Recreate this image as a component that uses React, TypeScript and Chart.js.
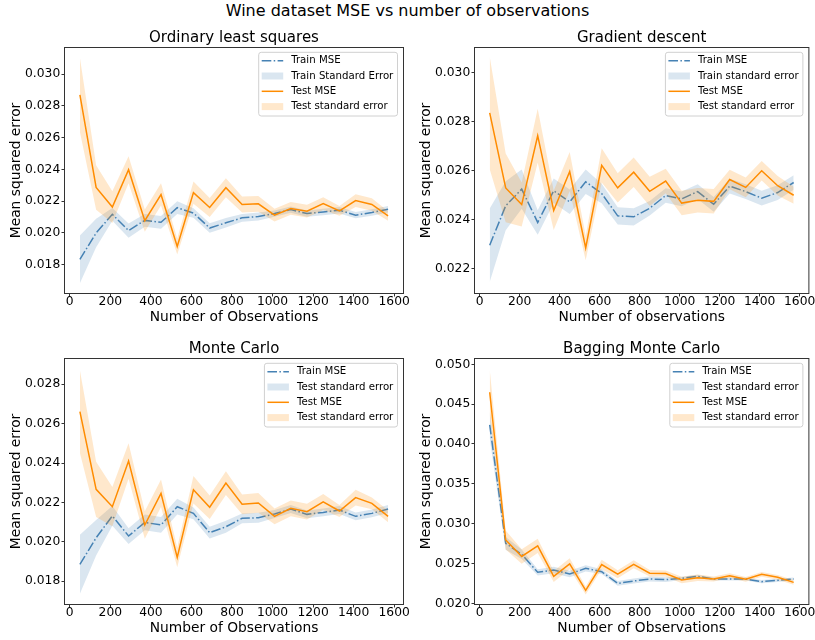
import { useEffect, useRef } from "react";
import { Chart, registerables } from "chart.js";

Chart.register(...registerables);

// ---------------- data ----------------
const xObs = [50, 130, 210, 290, 370, 450, 530, 610, 690, 770, 850, 930, 1010, 1090, 1170, 1250, 1330, 1410, 1490, 1570];
const xTicks = [0, 200, 400, 600, 800, 1000, 1200, 1400, 1600];
const xRange = [-26, 1646];

// Ordinary least squares
const olsTrainMse = [0.01834, 0.02000, 0.02117, 0.02015, 0.02079, 0.02067, 0.02159, 0.02125, 0.02031, 0.02064, 0.02095, 0.02103, 0.02122, 0.02147, 0.02122, 0.02132, 0.02143, 0.02112, 0.02129, 0.02149];
const olsTrainSe = [0.0015, 0.0009, 0.0004, 0.00045, 0.0004, 0.0004, 0.0004, 0.0003, 0.0003, 0.0003, 0.00025, 0.00025, 0.0002, 0.0002, 0.0002, 0.0002, 0.0002, 0.0002, 0.0002, 0.0002];
const olsTestMse = [0.02869, 0.02286, 0.02163, 0.02398, 0.02077, 0.02242, 0.01915, 0.02254, 0.02160, 0.02285, 0.02179, 0.02183, 0.02112, 0.02154, 0.02137, 0.02185, 0.02139, 0.02204, 0.02179, 0.02107];
const olsTestSe = [0.00233, 0.0014, 0.001, 0.00085, 0.0007, 0.0007, 0.0005, 0.0007, 0.0006, 0.0006, 0.0005, 0.0005, 0.0004, 0.0004, 0.0004, 0.0004, 0.0003, 0.0004, 0.0004, 0.0003];
const olsYTicks = [0.018, 0.020, 0.022, 0.024, 0.026, 0.028, 0.030];
const olsYRange = [0.01619, 0.03167];

// Gradient descent
const gdTrainMse = [0.02296, 0.02457, 0.02525, 0.02389, 0.02518, 0.02473, 0.02555, 0.02507, 0.02416, 0.02412, 0.02447, 0.02499, 0.02485, 0.02515, 0.02463, 0.02537, 0.02515, 0.02488, 0.02511, 0.02552];
const gdTrainSe = [0.0015, 0.001, 0.0008, 0.0005, 0.0005, 0.0005, 0.0005, 0.0004, 0.00035, 0.00035, 0.0003, 0.0003, 0.0003, 0.0003, 0.0003, 0.0003, 0.0003, 0.0003, 0.0003, 0.0003];
const gdTestMse = [0.02836, 0.02530, 0.02462, 0.02743, 0.02438, 0.02597, 0.02285, 0.02622, 0.02530, 0.02594, 0.02516, 0.02558, 0.02468, 0.02480, 0.02475, 0.02564, 0.02532, 0.02600, 0.02539, 0.02500];
const gdTestSe = [0.0023, 0.0014, 0.0009, 0.0011, 0.0008, 0.0008, 0.0005, 0.0007, 0.0006, 0.0006, 0.0006, 0.0005, 0.0005, 0.0005, 0.0005, 0.0004, 0.0004, 0.0004, 0.0004, 0.00035];
const gdYTicks = [0.022, 0.024, 0.026, 0.028, 0.030];
const gdYRange = [0.02099, 0.03103];

// Monte Carlo
const mcTrainMse = [0.01885, 0.02020, 0.02131, 0.02029, 0.02098, 0.02085, 0.02178, 0.02144, 0.02046, 0.02076, 0.02119, 0.02122, 0.02141, 0.02166, 0.02139, 0.02149, 0.02161, 0.02129, 0.02144, 0.02166];
const mcTrainSe = [0.0015, 0.0009, 0.0005, 0.0004, 0.0004, 0.0004, 0.0004, 0.0003, 0.0003, 0.0003, 0.00025, 0.00025, 0.0002, 0.0002, 0.0002, 0.0002, 0.0002, 0.0002, 0.0002, 0.0002];
const mcTestMse = [0.02661, 0.02266, 0.02178, 0.02410, 0.02085, 0.02246, 0.01920, 0.02264, 0.02175, 0.02298, 0.02190, 0.02197, 0.02129, 0.02170, 0.02153, 0.02203, 0.02156, 0.02224, 0.02195, 0.02129];
const mcTestSe = [0.0021, 0.0014, 0.001, 0.0009, 0.0007, 0.0007, 0.0005, 0.0007, 0.0006, 0.0006, 0.0005, 0.0005, 0.0004, 0.0004, 0.0004, 0.0004, 0.0003, 0.0004, 0.0003, 0.0003];
const mcYTicks = [0.018, 0.020, 0.022, 0.024, 0.026, 0.028];
const mcYRange = [0.01681, 0.02931];

// Bagging Monte Carlo
const bmTrainMse = [0.04241, 0.02753, 0.02615, 0.02389, 0.02418, 0.02368, 0.02439, 0.02397, 0.02250, 0.02280, 0.02305, 0.02297, 0.02313, 0.02339, 0.02305, 0.02305, 0.02305, 0.02272, 0.02288, 0.02305];
const bmTrainSe = [0.0017, 0.0008, 0.0006, 0.0004, 0.0004, 0.0004, 0.0004, 0.0003, 0.0003, 0.0003, 0.0003, 0.0003, 0.0002, 0.0002, 0.0002, 0.0002, 0.0002, 0.0002, 0.0002, 0.0002];
const bmTestMse = [0.04649, 0.02795, 0.02588, 0.02721, 0.02337, 0.02496, 0.02162, 0.02487, 0.02366, 0.02490, 0.02377, 0.02373, 0.02292, 0.02321, 0.02305, 0.02347, 0.02301, 0.02364, 0.02326, 0.02263];
const bmTestSe = [0.0029, 0.0012, 0.0009, 0.0009, 0.0007, 0.0007, 0.0005, 0.0006, 0.0005, 0.0005, 0.0004, 0.0004, 0.0004, 0.0004, 0.0003, 0.0003, 0.0003, 0.0003, 0.0003, 0.0003];
const bmYTicks = [0.020, 0.025, 0.030, 0.035, 0.040, 0.045, 0.050];
const bmYRange = [0.01985, 0.05073];

// texts
const suptitle = "Wine dataset MSE vs number of observations";
const panelTitles = ["Ordinary least squares", "Gradient descent", "Monte Carlo", "Bagging Monte Carlo"];
const xAxisLabels = ["Number of Observations", "Number of observations", "Number of Observations", "Number of Observations"];
const yAxisLabel = "Mean squared error";
const legendLabels = [
  ["Train MSE", "Train Standard Error", "Test MSE", "Test standard error"],
  ["Train MSE", "Train standard error", "Test MSE", "Test standard error"],
  ["Train MSE", "Test standard error", "Test MSE", "Test standard error"],
  ["Train MSE", "Test standard error", "Test MSE", "Test standard error"],
];

// ---------------- styles / layout ----------------
const FONT = "'DejaVu Sans', 'Liberation Sans', sans-serif";
const BLUE = "rgb(70,130,180)";
const BLUE_FILL = "rgba(70,130,180,0.2)";
const ORANGE = "rgb(255,140,0)";
const ORANGE_FILL = "rgba(255,140,0,0.2)";
const DASH = [9.6, 2.4, 1.5, 2.4];
const TRANSPARENT = "rgba(0,0,0,0)";
const Y_AXIS_W = 56;
const X_AXIS_H = 32.3;

const panelAreas = [
  { l: 64.5, t: 47.5, r: 403.5, b: 293.5 },
  { l: 474.5, t: 47.5, r: 810.5, b: 293.5 },
  { l: 64.5, t: 358.5, r: 403.5, b: 604.5 },
  { l: 474.5, t: 358.5, r: 810.5, b: 604.5 },
];

const panels = [
  { train: olsTrainMse, trainSe: olsTrainSe, test: olsTestMse, testSe: olsTestSe, yTicks: olsYTicks, yRange: olsYRange },
  { train: gdTrainMse, trainSe: gdTrainSe, test: gdTestMse, testSe: gdTestSe, yTicks: gdYTicks, yRange: gdYRange },
  { train: mcTrainMse, trainSe: mcTrainSe, test: mcTestMse, testSe: mcTestSe, yTicks: mcYTicks, yRange: mcYRange },
  { train: bmTrainMse, trainSe: bmTrainSe, test: bmTestMse, testSe: bmTestSe, yTicks: bmYTicks, yRange: bmYRange },
];

const toPts = (ys: number[]) => xObs.map((x, i) => ({ x, y: ys[i] }));
const shift = (a: number[], b: number[], s: number) => a.map((v, i) => v + s * b[i]);

const framePlugin = {
  id: "frame",
  afterDatasetsDraw(chart: any) {
    const { ctx, chartArea: a } = chart;
    ctx.save();
    ctx.strokeStyle = "#333";
    ctx.lineWidth = 1;
    ctx.strokeRect(a.left, a.top, a.right - a.left, a.bottom - a.top);
    ctx.restore();
  },
};

const legendPlugin = {
  id: "panelLegend",
  afterDraw(chart: any, _args: any, opts: any) {
    const { ctx, chartArea: a } = chart;
    const labels: string[] = opts.labels || [];
    const fs = 10.2;
    ctx.save();
    ctx.font = `${fs}px ${FONT}`;
    const maxW = Math.max(...labels.map((l) => ctx.measureText(l).width));
    const w = 32.5 + maxW + 4.2;
    const h = 63.7;
    const right = a.right - 6;
    const left = right - w;
    const top = a.top + 4.8;
    ctx.beginPath();
    if (ctx.roundRect) ctx.roundRect(left, top, w, h, 2.5);
    else ctx.rect(left, top, w, h);
    ctx.fillStyle = "rgba(255,255,255,0.8)";
    ctx.fill();
    ctx.strokeStyle = "#d0d0d0";
    ctx.lineWidth = 1;
    ctx.stroke();
    for (let i = 0; i < labels.length; i++) {
      const cy = top + 8.4 + i * 15.3;
      const x0 = left + 3;
      const x1 = left + 24.5;
      if (i === 1 || i === 3) {
        ctx.fillStyle = i === 1 ? BLUE_FILL : ORANGE_FILL;
        ctx.fillRect(x0, cy - 3.5, x1 - x0, 7);
      } else {
        ctx.beginPath();
        ctx.setLineDash(i === 0 ? DASH : []);
        ctx.strokeStyle = i === 0 ? BLUE : ORANGE;
        ctx.lineWidth = 1.5;
        ctx.moveTo(x0, cy);
        ctx.lineTo(x1, cy);
        ctx.stroke();
        ctx.setLineDash([]);
      }
      ctx.fillStyle = "#000";
      ctx.textBaseline = "middle";
      ctx.textAlign = "left";
      ctx.fillText(labels[i], left + 32.5, cy);
    }
    ctx.restore();
  },
};

function makeConfig(i: number): any {
  const p = panels[i];
  const area = panelAreas[i];
  const tickGrid = {
    display: true,
    drawOnChartArea: false,
    drawTicks: true,
    tickLength: 3,
    color: "#333",
    lineWidth: 1,
  };
  return {
    type: "line",
    data: {
      datasets: [
        { label: legendLabels[i][2], data: toPts(p.test), borderColor: ORANGE, borderWidth: 1.5, pointRadius: 0, fill: false, tension: 0 },
        { label: legendLabels[i][3], data: toPts(shift(p.test, p.testSe, 1)), borderColor: TRANSPARENT, borderWidth: 0, backgroundColor: ORANGE_FILL, pointRadius: 0, fill: 2, tension: 0 },
        { label: legendLabels[i][3] + " (lower)", data: toPts(shift(p.test, p.testSe, -1)), borderColor: TRANSPARENT, borderWidth: 0, pointRadius: 0, fill: false, tension: 0 },
        { label: legendLabels[i][0], data: toPts(p.train), borderColor: BLUE, borderWidth: 1.5, borderDash: DASH, pointRadius: 0, fill: false, tension: 0 },
        { label: legendLabels[i][1], data: toPts(shift(p.train, p.trainSe, 1)), borderColor: TRANSPARENT, borderWidth: 0, backgroundColor: BLUE_FILL, pointRadius: 0, fill: 5, tension: 0 },
        { label: legendLabels[i][1] + " (lower)", data: toPts(shift(p.train, p.trainSe, -1)), borderColor: TRANSPARENT, borderWidth: 0, pointRadius: 0, fill: false, tension: 0 },
      ],
    },
    options: {
      responsive: false,
      maintainAspectRatio: false,
      devicePixelRatio: 1,
      animation: false,
      events: [],
      layout: {
        padding: {
          left: area.l - Y_AXIS_W,
          top: area.t - 18.5,
          right: 815 - area.r,
          bottom: 640 - area.b - X_AXIS_H,
        },
      },
      scales: {
        x: {
          type: "linear",
          min: xRange[0],
          max: xRange[1],
          afterBuildTicks: (s: any) => {
            s.ticks = xTicks.map((v) => ({ value: v }));
          },
          afterFit: (s: any) => {
            s.height = X_AXIS_H;
          },
          grid: tickGrid,
          border: { display: false },
          ticks: {
            callback: (v: any) => String(v),
            font: { family: FONT, size: 12.3, lineHeight: 1 },
            color: "#000",
            padding: -0.5,
            maxRotation: 0,
            autoSkip: false,
          },
          title: {
            display: true,
            text: xAxisLabels[i],
            font: { family: FONT, size: 13.8, lineHeight: 1.2 },
            color: "#000",
            padding: { top: 0, bottom: 0 },
          },
        },
        y: {
          type: "linear",
          min: p.yRange[0],
          max: p.yRange[1],
          afterBuildTicks: (s: any) => {
            s.ticks = p.yTicks.map((v) => ({ value: v }));
          },
          afterFit: (s: any) => {
            s.width = Y_AXIS_W;
          },
          grid: tickGrid,
          border: { display: false },
          ticks: {
            callback: (v: any) => Number(v).toFixed(3),
            font: { family: FONT, size: 12.3, lineHeight: 1 },
            color: "#000",
            padding: 1.3,
            autoSkip: false,
          },
          title: {
            display: true,
            text: yAxisLabel,
            font: { family: FONT, size: 13.8, lineHeight: 1.2 },
            color: "#000",
            padding: { top: 0, bottom: 0 },
          },
        },
      },
      plugins: {
        legend: { display: false },
        tooltip: { enabled: false },
        title: {
          display: true,
          fullSize: false,
          text: panelTitles[i],
          font: { family: FONT, size: 15, weight: "normal", lineHeight: 1.2 },
          color: "#000",
          padding: { top: 0, bottom: 0.5 },
        },
        panelLegend: { labels: legendLabels[i] },
      },
    },
    plugins: [framePlugin, legendPlugin],
  };
}

export default function App() {
  const canvases = useRef<(HTMLCanvasElement | null)[]>([]);

  useEffect(() => {
    const charts = panels.map((_, i) => new Chart(canvases.current[i] as HTMLCanvasElement, makeConfig(i)));
    return () => charts.forEach((c) => c.destroy());
  }, []);

  return (
    <div style={{ position: "absolute", left: 0, top: 0, width: 815, height: 640, background: "#fff", overflow: "hidden" }}>
      <div
        style={{
          position: "absolute",
          left: 0,
          top: 1,
          width: 815,
          textAlign: "center",
          fontFamily: FONT,
          fontSize: 16,
          lineHeight: "19px",
          color: "#000",
          whiteSpace: "nowrap",
        }}
      >
        {suptitle}
      </div>
      {panels.map((_, i) => (
        <canvas
          key={i}
          ref={(el) => {
            canvases.current[i] = el;
          }}
          width={815}
          height={640}
          style={{ position: "absolute", left: 0, top: 0, width: 815, height: 640 }}
        />
      ))}
    </div>
  );
}
